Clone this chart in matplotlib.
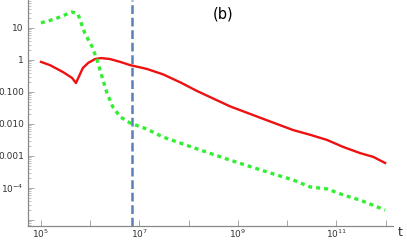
import numpy as np
import matplotlib
matplotlib.use("Agg")
import matplotlib.pyplot as plt
from matplotlib.ticker import FixedLocator, FixedFormatter, LogLocator, NullFormatter

# values (log10 of t and log10 of the curves)
red_logt = [5.00, 5.18, 5.45, 5.63, 5.71, 5.85, 5.96, 6.10, 6.22, 6.40, 6.61, 6.81,
            7.15, 7.48, 7.83, 8.17, 8.84, 9.65, 10.12, 10.47, 10.81, 11.14, 11.48, 11.75, 11.99]
red_logv = [-0.06, -0.16, -0.38, -0.56, -0.72, -0.25, -0.09, 0.03, 0.06, 0.03, -0.06, -0.16,
            -0.28, -0.45, -0.70, -0.97, -1.45, -1.92, -2.19, -2.34, -2.50, -2.72, -2.91, -3.03, -3.22]

green_logt = [5.00, 5.28, 5.63, 5.75, 5.89, 6.04, 6.14, 6.24, 6.34, 6.46, 6.61, 6.81,
              7.15, 7.48, 8.17, 8.84, 9.65, 10.12, 10.47, 10.81, 11.14, 11.48, 11.99]
green_logv = [1.16, 1.28, 1.50, 1.44, 0.84, 0.41, 0.00, -0.53, -1.03, -1.47, -1.78, -1.97,
              -2.16, -2.41, -2.78, -3.13, -3.53, -3.75, -3.97, -4.03, -4.22, -4.38, -4.69]

t_mark = 7e6

ytick_vals = [10, 1, 0.1, 0.01, 0.001, 1e-4, 1e-5]
ytick_labels = ["10", "1", "0.100", "0.010", "0.001", r"$10^{-4}$", ""]
xtick_vals = [1e5, 1e6, 1e7, 1e8, 1e9, 1e10, 1e11, 1e12]
xtick_labels = [r"$10^{5}$", "", r"$10^{7}$", "", r"$10^{9}$", "", r"$10^{11}$", ""]

fig = plt.figure(figsize=(4.07, 2.40), dpi=100)
ax = fig.add_axes([28 / 407, 14 / 240, 365 / 407, 226 / 240])

ax.plot(10 ** np.array(red_logt), 10 ** np.array(red_logv), color="#ee1111", lw=1.7)
ax.plot(10 ** np.array(green_logt), 10 ** np.array(green_logv), color="#33ee33",
        lw=2.4, linestyle=(0, (1.2, 1.2)))
ax.axvline(t_mark, color="#5b80b8", lw=1.8, linestyle=(0, (3.5, 1.5)))

ax.set_xscale("log")
ax.set_yscale("log")
ax.set_xlim(10 ** 4.736, 10 ** 12.15)
ax.set_ylim(10 ** -5.19, 10 ** 1.875)

ax.xaxis.set_major_locator(FixedLocator(xtick_vals))
ax.xaxis.set_major_formatter(FixedFormatter(xtick_labels))
ax.xaxis.set_minor_locator(FixedLocator([]))
ax.yaxis.set_major_locator(FixedLocator(ytick_vals))
ax.yaxis.set_major_formatter(FixedFormatter(ytick_labels))
ax.yaxis.set_minor_locator(LogLocator(base=10, subs=np.arange(2, 10), numticks=20))
ax.yaxis.set_minor_formatter(NullFormatter())

for s in ["top", "right"]:
    ax.spines[s].set_visible(False)
for s in ["left", "bottom"]:
    ax.spines[s].set_color("#888888")
    ax.spines[s].set_linewidth(0.9)
ax.tick_params(which="major", direction="in", length=4, width=0.6, color="#999999",
               labelsize=6.5, labelcolor="#333333")
ax.tick_params(axis="x", which="major", pad=1)
ax.tick_params(axis="y", which="major", pad=3)
ax.tick_params(which="minor", direction="in", length=2, width=0.5, color="#aaaaaa")

ax.text(0.535, 0.94, "(b)", transform=ax.transAxes, fontsize=10.5, ha="center", va="center")
fig.text(400 / 407, 1 - 232 / 240, "t", fontsize=9, ha="center", va="center", color="#333333")

fig.savefig("out.png", dpi=100)
